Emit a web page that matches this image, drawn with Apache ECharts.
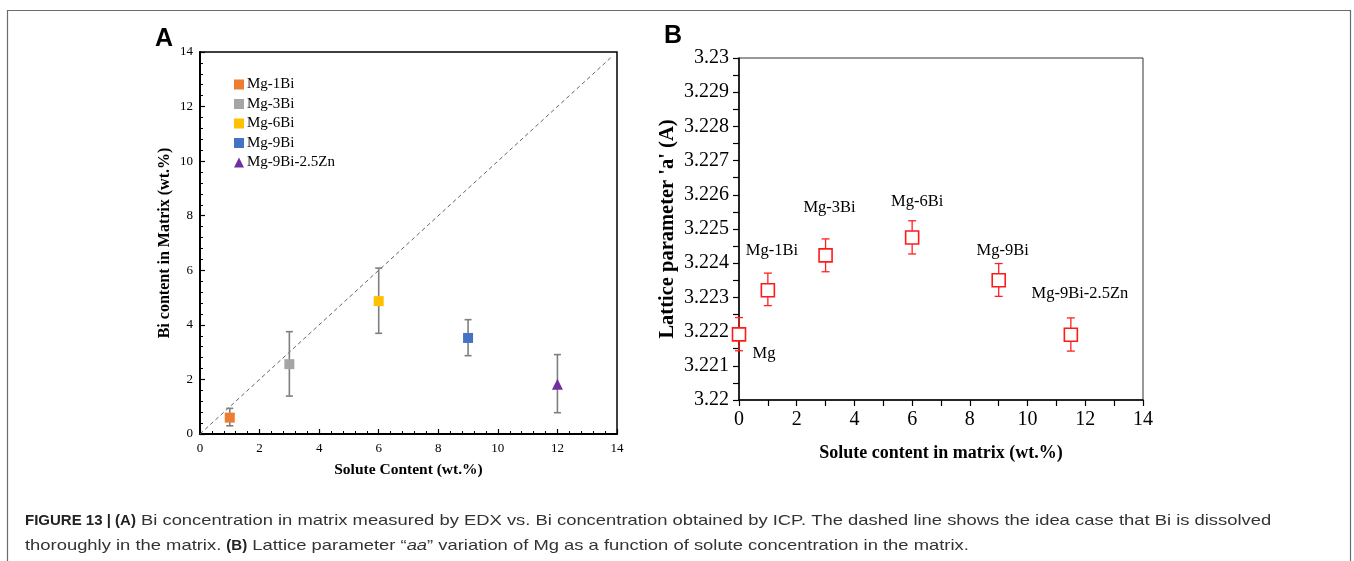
<!DOCTYPE html>
<html>
<head>
<meta charset="utf-8">
<script src="https://cdn.jsdelivr.net/npm/echarts@6/dist/echarts.min.js"></script>
<style>
html,body{margin:0;padding:0;background:#fff;}
#chart{width:1354px;height:561px;}
</style>
</head>
<body>
<div id="chart"></div>
<script>
// ---------- Panel A data ----------
const alloysA = ['Mg-1Bi', 'Mg-3Bi', 'Mg-6Bi', 'Mg-9Bi', 'Mg-9Bi-2.5Zn'];
const soluteA = [1, 3, 6, 9, 12];
const biMatrix = [0.6, 2.56, 4.87, 3.52, 1.82];
const biLow = [0.3, 1.39, 3.69, 2.87, 0.78];
const biHigh = [0.94, 3.75, 6.08, 4.19, 2.91];
const idealX = [0, 13.8];
const ticksA = [0, 2, 4, 6, 8, 10, 12, 14];

// ---------- Panel B data ----------
const alloysB = ['Mg', 'Mg-1Bi', 'Mg-3Bi', 'Mg-6Bi', 'Mg-9Bi', 'Mg-9Bi-2.5Zn'];
const soluteB = [0, 1, 3, 6, 9, 11.5];
const lattice = [3.22192, 3.22321, 3.22423, 3.22475, 3.2235, 3.22191];
const latticeLow = [3.22144, 3.22276, 3.22375, 3.22427, 3.22303, 3.22143];
const latticeHigh = [3.22241, 3.22371, 3.22471, 3.22524, 3.22399, 3.2224];
const ticksBx = [0, 2, 4, 6, 8, 10, 12, 14];
const ticksBy = ['3.22', '3.221', '3.222', '3.223', '3.224', '3.225', '3.226', '3.227', '3.228', '3.229', '3.23'];

// ---------- caption text ----------
const captionLine1 = [
  ['b', 'FIGURE 13 | (A)'],
  ['r', ' Bi concentration in matrix measured by EDX vs. Bi concentration obtained by ICP. The dashed line shows the idea case that Bi is dissolved']
];
const captionLine2 = [
  ['r', 'thoroughly in the matrix. '],
  ['b', '(B)'],
  ['r', ' Lattice parameter \u201c'],
  ['i', 'aa'],
  ['r', '\u201d variation of Mg as a function of solute concentration in the matrix.']
];

// ---------- styles (kept separate) ----------
const colorsA = ['#ED7D31', '#A5A5A5', '#FFC000', '#4472C4', '#7030A0'];
const symbolsA = ['rect', 'rect', 'rect', 'rect', 'triangle'];
const labelOffsetsB = [[25, 19], [4, -40], [4, -48], [5, -36], [4, -30], [9, -41]];
const SERIF = '"Liberation Serif", "Times New Roman", serif';
const SANS = '"Liberation Sans", Arial, sans-serif';
const CAP_SIZE = 15;
const CAP_STRETCH = 1.226;

const chart = echarts.init(document.getElementById('chart'), null, {renderer: 'canvas'});

function errorBarRenderer(capHalf, color, width) {
  return function (params, api) {
    const x = api.value(0), lo = api.value(1), hi = api.value(2);
    const pTop = api.coord([x, hi]);
    const pBot = api.coord([x, lo]);
    const style = {stroke: color, lineWidth: width, fill: null};
    return {
      type: 'group',
      children: [
        {type: 'line', shape: {x1: pTop[0], y1: pTop[1], x2: pBot[0], y2: pBot[1]}, style: style},
        {type: 'line', shape: {x1: pTop[0] - capHalf, y1: pTop[1], x2: pTop[0] + capHalf, y2: pTop[1]}, style: style},
        {type: 'line', shape: {x1: pBot[0] - capHalf, y1: pBot[1], x2: pBot[0] + capHalf, y2: pBot[1]}, style: style}
      ]
    };
  };
}

// caption layout helper (measures text, places run by run)
const mctx = document.createElement('canvas').getContext('2d');
function runFont(kind) {
  if (kind === 'b') return 'bold ' + CAP_SIZE + 'px ' + SANS;
  if (kind === 'i') return 'italic ' + CAP_SIZE + 'px ' + SANS;
  return CAP_SIZE + 'px ' + SANS;
}
function captionElements(runs, x0, yMid) {
  const els = [];
  let x = x0;
  runs.forEach(([kind, txt]) => {
    mctx.font = runFont(kind);
    const w = mctx.measureText(txt).width;
    const sx = kind === 'b' ? 1 : CAP_STRETCH;
    els.push({
      type: 'text', x: x, y: yMid, scaleX: sx, silent: true,
      style: {
        text: txt, fontFamily: SANS, fontSize: CAP_SIZE,
        fontWeight: kind === 'b' ? 'bold' : 'normal',
        fontStyle: kind === 'i' ? 'italic' : 'normal',
        fill: kind === 'b' ? '#222' : '#333', verticalAlign: 'middle'
      }
    });
    x += w * sx;
  });
  return els;
}

const series = [];
series.push({
  name: 'ideal', type: 'line', xAxisIndex: 0, yAxisIndex: 0,
  data: idealX.map(v => [v, v]), symbol: 'none', silent: true,
  lineStyle: {color: '#666', width: 1, type: [4, 3]}, z: 1
});
series.push({
  name: 'errA', type: 'custom', xAxisIndex: 0, yAxisIndex: 0,
  data: soluteA.map((x, i) => [x, biLow[i], biHigh[i]]),
  renderItem: errorBarRenderer(3.5, '#7F7F7F', 1.6), z: 2, silent: true
});
alloysA.forEach((name, i) => {
  series.push({
    name: name, type: 'scatter', xAxisIndex: 0, yAxisIndex: 0,
    data: [[soluteA[i], biMatrix[i]]],
    symbol: symbolsA[i], symbolSize: symbolsA[i] === 'triangle' ? 11 : 10,
    itemStyle: {color: colorsA[i], opacity: 1}, z: 3, clip: false
  });
});
series.push({
  name: 'errB', type: 'custom', xAxisIndex: 1, yAxisIndex: 1,
  data: soluteB.map((x, i) => [x, latticeLow[i], latticeHigh[i]]),
  renderItem: errorBarRenderer(4, '#FF2020', 1.3), z: 2, silent: true, clip: false
});
series.push({
  name: 'lattice', type: 'scatter', xAxisIndex: 1, yAxisIndex: 1,
  data: soluteB.map((x, i) => ({
    value: [x, lattice[i]],
    label: {
      show: true, formatter: alloysB[i], position: 'inside',
      offset: labelOffsetsB[i], fontFamily: SERIF, fontSize: 16.5, color: '#000'
    }
  })),
  symbol: 'rect', symbolSize: 13, clip: false,
  itemStyle: {color: '#fff', borderColor: '#FF1A1A', borderWidth: 1.6, opacity: 1}, z: 3
});

const option = {
  animation: false,
  backgroundColor: '#fff',
  legend: {
    data: alloysA, orient: 'vertical', left: 229, top: 72,
    itemWidth: 10, itemHeight: 10, itemGap: 4.5,
    textStyle: {fontFamily: SERIF, fontSize: 15, color: '#000', padding: [0, 0, 0, -2]}
  },
  grid: [
    {left: 200, top: 52, width: 417, height: 382, show: true, borderColor: '#000', borderWidth: 1.5, backgroundColor: 'transparent'},
    {left: 739, top: 58, width: 404, height: 342, show: true, borderColor: '#333', borderWidth: 1, backgroundColor: 'transparent'}
  ],
  xAxis: [
    {
      gridIndex: 0, type: 'value', min: ticksA[0], max: ticksA[ticksA.length - 1], interval: 2,
      name: 'Solute Content (wt.%)', nameLocation: 'middle', nameGap: 28,
      nameTextStyle: {fontFamily: SERIF, fontSize: 15.5, fontWeight: 'bold', color: '#000'},
      axisLine: {onZero: false, lineStyle: {color: '#000', width: 2}},
      axisTick: {inside: true, length: 5, lineStyle: {color: '#000', width: 1.2}},
      minorTick: {show: true, splitNumber: 5, length: 3, lineStyle: {color: '#000', width: 1}},
      axisLabel: {fontFamily: SERIF, fontSize: 13, color: '#000', margin: 8},
      splitLine: {show: false}
    },
    {
      gridIndex: 1, type: 'value', min: ticksBx[0], max: ticksBx[ticksBx.length - 1], interval: 2,
      name: 'Solute content in matrix (wt.%)', nameLocation: 'middle', nameGap: 44,
      nameTextStyle: {fontFamily: SERIF, fontSize: 18, fontWeight: 'bold', color: '#000'},
      axisLine: {onZero: false, lineStyle: {color: '#000', width: 1.5}},
      axisTick: {inside: false, length: 6, lineStyle: {color: '#000', width: 1.2}},
      minorTick: {show: true, splitNumber: 2, length: 6, lineStyle: {color: '#000', width: 1.2}},
      axisLabel: {fontFamily: SERIF, fontSize: 20, color: '#000', margin: 10},
      splitLine: {show: false}
    }
  ],
  yAxis: [
    {
      gridIndex: 0, type: 'value', min: ticksA[0], max: ticksA[ticksA.length - 1], interval: 2,
      name: 'Bi content in Matrix (wt.%)', nameLocation: 'middle', nameGap: 27,
      nameTextStyle: {fontFamily: SERIF, fontSize: 16, fontWeight: 'bold', color: '#000'},
      axisLine: {onZero: false, lineStyle: {color: '#000', width: 2}},
      axisTick: {inside: true, length: 5, lineStyle: {color: '#000', width: 1.2}},
      minorTick: {show: true, splitNumber: 5, length: 3, lineStyle: {color: '#000', width: 1}},
      axisLabel: {fontFamily: SERIF, fontSize: 13, color: '#000', margin: 7},
      splitLine: {show: false}
    },
    {
      gridIndex: 1, type: 'value', min: 3.22, max: 3.23, interval: 0.001,
      name: "Lattice parameter 'a' (A)", nameLocation: 'middle', nameGap: 61,
      nameTextStyle: {fontFamily: SERIF, fontSize: 20.5, fontWeight: 'bold', color: '#000'},
      axisLine: {onZero: false, lineStyle: {color: '#000', width: 1.5}},
      axisTick: {inside: false, length: 6, lineStyle: {color: '#000', width: 1.2}},
      minorTick: {show: true, splitNumber: 2, length: 6, lineStyle: {color: '#000', width: 1.2}},
      axisLabel: {
        fontFamily: SERIF, fontSize: 20, color: '#000', margin: 10,
        formatter: function (v) {
          const idx = Math.round((v - 3.22) / 0.001);
          return ticksBy[idx] !== undefined ? ticksBy[idx] : '';
        }
      },
      splitLine: {show: false}
    }
  ],
  graphic: [
    {type: 'rect', shape: {x: 7.5, y: 10.5, width: 1343, height: 600}, style: {fill: null, stroke: '#6b6b6b', lineWidth: 1.2}, silent: true},
    {type: 'text', x: 155, y: 27, style: {text: 'A', fontFamily: SANS, fontSize: 25, fontWeight: 'bold', fill: '#000'}},
    {type: 'text', x: 664, y: 24, style: {text: 'B', fontFamily: SANS, fontSize: 25, fontWeight: 'bold', fill: '#000'}}
  ].concat(captionElements(captionLine1, 25, 521), captionElements(captionLine2, 25, 546)),
  series: series
};
chart.setOption(option);
</script>
</body>
</html>
